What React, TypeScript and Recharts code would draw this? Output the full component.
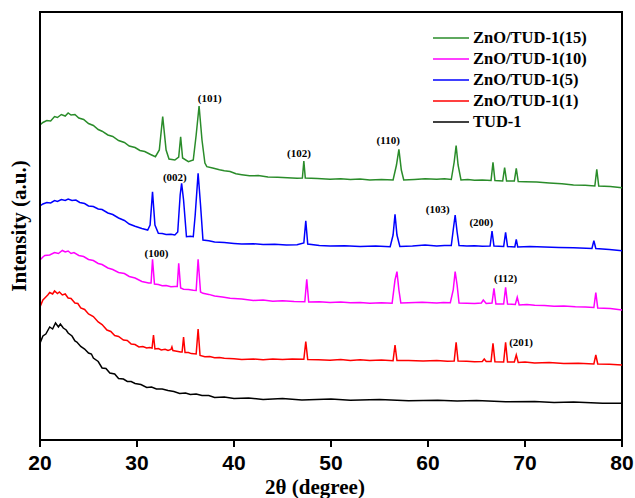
import { LineChart, Line, XAxis, YAxis, ReferenceArea, ReferenceDot } from "recharts";

// [2θ, intensity] (intensity in arbitrary plot units, curves already offset)
const tud1: [number, number][] = [
  [20, 96.7], [20.3, 104], [20.6, 106], [21, 113], [21.3, 111], [21.6, 117], [21.9, 113], [22.1, 116], [22.4, 112],
  [22.7, 110], [22.9, 107], [23.3, 104], [23.6, 99], [23.8, 98], [24.2, 93.5], [24.6, 91], [25, 87], [25.3, 86],
  [25.5, 82], [26, 78.5], [26.4, 72], [26.8, 71.5], [27.2, 67], [27.7, 66], [28.1, 61.5], [28.6, 61], [29, 58.5],
  [29.4, 58.5], [29.8, 56.5], [30.4, 55.5], [31, 52.5], [31.5, 53], [32, 51], [32.6, 51], [33.2, 49.5], [33.8, 48.5],
  [34.4, 46.5], [35, 47], [35.5, 45.5], [36.1, 46], [36.7, 44.5], [37.4, 44.5], [38, 42.5], [39, 43], [40, 41.5],
  [41.5, 42], [43, 40.5], [45, 41.5], [47, 40], [50, 41], [52, 39.8], [55, 40.5], [58, 39.3], [61, 39.8],
  [63, 39], [65, 39.4], [68, 38.2], [71, 38.6], [73, 37.6], [75, 37.9], [78, 36.8], [80, 36.7],
];

const znoTud1_1: [number, number][] = [
  [20, 133], [20.3, 140], [20.5, 142], [20.8, 145], [21, 147.5], [21.3, 146], [21.5, 149], [21.8, 146.5], [22, 148],
  [22.3, 145], [22.6, 146], [22.9, 142], [23.2, 141.5], [23.6, 137], [23.9, 136.5], [24.2, 132], [24.6, 130.5],
  [25, 126], [25.5, 123.5], [26, 118], [26.4, 115.5], [26.9, 110], [27.3, 108.5], [27.7, 104.5], [28.1, 103.5],
  [28.6, 100], [29, 99.5], [29.4, 96], [29.8, 95.5], [30.2, 93], [30.6, 93.5], [31, 92], [31.3, 92.5], [31.55, 92],
  [31.7, 105], [31.85, 91], [32.2, 91.5], [32.5, 90], [32.9, 90.8], [33.2, 89.6], [33.5, 90.5], [33.6, 93],
  [33.7, 89.5], [34.1, 88.8], [34.5, 88], [34.65, 88], [34.8, 103], [34.95, 87.5], [35.3, 87.4], [35.6, 86.4],
  [36.1, 86], [36.3, 111], [36.5, 84.5], [37, 83.3], [37.5, 83.5], [38, 82.2], [38.5, 82.6], [39, 81.8], [40, 81.2],
  [40.8, 80.5], [42, 81], [43, 80.2], [44, 80.9], [45, 80.6], [46, 81], [47.2, 80.7], [47.4, 98.3], [47.6, 80.5],
  [48.7, 80.3], [49.9, 79.8], [51, 80.4], [52, 79.5], [53, 80.2], [54, 79.6], [55.2, 80], [56.4, 79.3], [56.6, 95],
  [56.8, 79.5], [58, 79.4], [59.5, 78.9], [60.9, 79.6], [62, 78.8], [62.7, 79], [62.9, 97.7], [63.1, 79],
  [64, 78.7], [64.8, 78.3], [65.6, 78.5], [65.8, 81], [66, 78.5], [66.5, 78.5], [66.7, 96.7], [66.9, 78.3],
  [67.8, 78], [68, 97.7], [68.2, 78], [68.9, 78], [69.1, 85], [69.3, 77.5], [70, 77.9], [71, 77.1], [72.5, 77.4],
  [74, 76.5], [75.5, 76.8], [77.1, 76], [77.3, 85], [77.5, 76], [78.7, 75.8], [80, 75],
];

const znoTud1_10: [number, number][] = [
  [20, 180], [20.3, 183], [20.5, 184.5], [21, 185], [21.5, 187.5], [21.9, 186.5], [22.3, 189.5], [22.6, 188],
  [22.9, 189], [23.2, 186.5], [23.5, 187.5], [24, 184.5], [24.5, 183.5], [25, 180.5], [25.5, 179.5], [26, 176.5],
  [26.4, 175.5], [27, 172], [27.5, 170.5], [28.1, 167.5], [28.7, 166.5], [29.2, 163.5], [29.8, 162], [30.5, 158.5],
  [31.2, 157], [31.45, 157], [31.6, 180.7], [31.8, 156], [32.2, 155.5], [32.6, 154.2], [33, 154.5], [33.5, 153.2],
  [33.9, 153.5], [34.15, 153.5], [34.3, 176.7], [34.5, 152], [34.8, 150.7], [35.3, 150.6], [35.8, 149.8],
  [36.1, 149.5], [36.3, 180.7], [36.55, 148], [36.8, 146.7], [37.4, 145.6], [38, 144], [38.8, 143], [39.6, 141.7],
  [40.8, 140.9], [42, 139.6], [43, 139.9], [44, 138.8], [45, 139.3], [46.2, 138.4], [47.3, 138.3], [47.5, 160.7],
  [47.7, 138], [48.8, 138.2], [49.9, 137.5], [51, 138], [52, 137.2], [53, 137.6], [54, 136.8], [55.2, 137.2],
  [56.3, 136.7], [56.6, 160], [56.8, 168.3], [57, 150], [57.2, 137], [58, 137.3], [59.4, 137.8], [60.9, 137.1],
  [61.6, 137.6], [62.3, 137.3], [62.6, 150], [62.8, 168.3], [63, 155], [63.2, 137], [64, 136.8], [64.8, 136.5],
  [65.5, 137], [65.7, 140], [66, 136.5], [66.6, 137], [66.8, 151.7], [67, 136], [67.8, 136], [68, 152.7],
  [68.2, 136], [69, 135.5], [69.2, 142.7], [69.4, 135], [70.2, 135.4], [71, 134.8], [72, 134.6], [73, 133.8],
  [74, 134.1], [75.2, 133.3], [76.2, 132.9], [77.1, 132.5], [77.3, 147.3], [77.5, 132], [78.8, 131.4], [80, 130],
];

const znoTud1_5: [number, number][] = [
  [20, 234], [20.3, 236], [20.7, 237.5], [21.1, 237], [21.5, 239.5], [21.8, 238.5], [22.2, 240.5], [22.6, 239.5],
  [22.9, 241], [23.3, 239.5], [23.7, 240], [24.1, 237.5], [24.6, 236.5], [25, 234], [25.5, 233.5], [26, 231],
  [26.4, 230.5], [27, 227], [27.5, 225.5], [28.1, 222], [28.7, 219.5], [29.2, 216], [29.8, 213.8], [30.5, 211.5],
  [31.1, 210], [31.35, 215], [31.6, 248.3], [31.85, 215], [32.2, 206.7], [32.6, 206.5], [33, 205.6], [33.5, 205.8],
  [33.9, 205], [34.2, 208], [34.45, 245], [34.6, 256.7], [34.8, 240], [35.1, 203.3], [35.5, 203.8], [35.8, 203.3],
  [36, 225], [36.3, 266.7], [36.55, 235], [36.8, 200], [37.4, 199.2], [38, 198], [39, 197.4], [40, 196.6],
  [40.8, 196], [42, 196.3], [43, 195.4], [44.2, 195.8], [45.4, 195.1], [46.5, 195.3], [47.2, 197], [47.4, 219.3],
  [47.6, 196], [48.8, 194.6], [49.9, 194], [51.4, 194.3], [53, 193.5], [54.6, 193.9], [56.1, 193.3], [56.4, 205],
  [56.6, 225.7], [56.8, 205], [57.1, 193.5], [58.4, 194.1], [59.7, 195], [60.9, 194], [61.7, 194.6], [62.4, 194.5],
  [62.6, 210], [62.8, 225], [63, 208], [63.2, 194.5], [64, 194], [64.8, 194.3], [65.6, 193.8], [66.4, 194],
  [66.6, 209], [66.8, 194], [67.8, 193.5], [68, 207.7], [68.2, 193.5], [68.95, 193], [69.1, 200.7], [69.25, 193],
  [70.5, 193.6], [72, 193.1], [73.5, 192.6], [75, 192.2], [76.9, 191.5], [77.1, 199.3], [77.3, 191.5],
  [78.7, 190.6], [80, 189.3],
];

const znoTud1_15: [number, number][] = [
  [20, 315], [20.3, 317.5], [20.7, 319.5], [21.1, 319], [21.5, 323.5], [21.8, 322.5], [22.2, 325.5], [22.6, 324],
  [22.9, 327], [23.2, 325], [23.6, 325.5], [24, 322], [24.5, 320.5], [25, 316.5], [25.5, 314.5], [26, 310.5],
  [26.4, 308.8], [27, 305], [27.5, 303.5], [28.1, 299.5], [28.7, 297.5], [29.2, 294], [29.8, 292.5], [30.3, 289.5],
  [30.8, 288.5], [31.4, 285.5], [31.9, 283.3], [32.3, 290], [32.65, 323.3], [33, 290], [33.3, 281], [33.9, 280],
  [34.3, 283], [34.5, 303.3], [34.7, 282], [35.3, 278.3], [35.8, 280], [36.1, 305], [36.4, 334], [36.7, 300],
  [37, 277], [37.2, 273.3], [37.8, 272], [38.5, 270.3], [39, 269.2], [39.6, 268.5], [40.2, 266.2], [40.8, 265.3],
  [41.6, 264.2], [42.5, 264.4], [43.5, 263.1], [44.5, 262.8], [45.5, 262.2], [46.5, 261.7], [47.05, 262],
  [47.2, 279], [47.35, 262], [48.6, 261.4], [49.9, 260.7], [51, 261.2], [52, 260.4], [53, 260.9], [54, 260],
  [55.2, 260.6], [56.4, 260], [56.75, 275], [57, 290.7], [57.25, 270], [57.5, 260], [58.6, 260.6], [59.7, 261.3],
  [60.9, 260.8], [61.7, 261.2], [62.4, 260.5], [62.7, 278], [62.9, 294.3], [63.1, 275], [63.4, 260], [64.1, 260.4],
  [64.8, 259.8], [65.6, 260.1], [66.5, 259.5], [66.7, 277.7], [66.9, 259.5], [67.7, 259], [67.9, 272.3],
  [68.1, 259], [68.9, 259], [69.1, 271.7], [69.3, 258.5], [70, 258.3], [71.2, 257.9], [72.5, 257], [73.8, 256.3],
  [75, 255], [76.2, 254.8], [77.2, 254], [77.4, 270.7], [77.6, 254], [78.8, 253.4], [80, 252.3],
];

const seriesNames = ["ZnO/TUD-1(15)", "ZnO/TUD-1(10)", "ZnO/TUD-1(5)", "ZnO/TUD-1(1)", "TUD-1"];
const seriesColors = ["#2a8c2a", "#ff00ff", "#0000ff", "#ff0000", "#000000"];
const seriesData = [znoTud1_15, znoTud1_10, znoTud1_5, znoTud1_1, tud1];

const xTicks = [20, 30, 40, 50, 60, 70, 80];

// hkl labels at [2θ, intensity]
const peakLabels = ["(101)", "(002)", "(100)", "(102)", "(110)", "(103)", "(200)", "(112)", "(201)"];
const peakLabelPos: [number, number][] = [
  [37.5, 342], [33.9, 263], [32.0, 186.7], [46.7, 286.7], [55.9, 300],
  [61.0, 231], [65.5, 218.3], [68.0, 161.7], [69.6, 98.3],
];

const serif = "'Liberation Serif', 'Times New Roman', serif";

function LegendBox() {
  return (
    <div
      style={{
        position: "absolute",
        left: 433,
        top: 27,
        fontFamily: serif,
        fontWeight: "bold",
        fontSize: 16.5,
        color: "#000",
      }}
    >
      {seriesNames.map((name, i) => (
        <div key={name} style={{ display: "flex", alignItems: "center", height: 21 }}>
          <svg width={40} height={4}>
            <line x1={0} y1={2} x2={36} y2={2} stroke={seriesColors[i]} strokeWidth={1.6} />
          </svg>
          <span>{name}</span>
        </div>
      ))}
    </div>
  );
}

export default function App() {
  return (
    <div style={{ position: "absolute", left: 0, top: 0, width: 635, height: 498, background: "#fff" }}>
      <LineChart width={635} height={498} margin={{ top: 12, right: 13, left: 0, bottom: 0 }}>
        <XAxis
          type="number"
          dataKey="0"
          domain={[20, 80]}
          ticks={xTicks}
          allowDataOverflow
          height={58}
          tickSize={7}
          tickMargin={8}
          axisLine={{ stroke: "#000", strokeWidth: 2 }}
          tickLine={{ stroke: "#000", strokeWidth: 2 }}
          tick={{ fill: "#000", fontSize: 21, fontWeight: "bold", fontFamily: "'Liberation Sans', Arial, sans-serif" }}
          label={{
            value: "2θ (degree)",
            position: "insideBottom",
            offset: 4,
            dx: -16,
            style: { fill: "#000", fontSize: 21, fontWeight: "bold", fontFamily: serif },
          }}
        />
        <YAxis
          type="number"
          domain={[0, 428]}
          width={40}
          tick={false}
          tickLine={false}
          axisLine={{ stroke: "#000", strokeWidth: 2 }}
          label={{
            value: "Intensity (a.u.)",
            angle: -90,
            position: "center",
            dx: -1,
            style: { fill: "#000", fontSize: 21, fontWeight: "bold", fontFamily: serif },
          }}
        />
        <ReferenceArea x1={20} x2={80} y1={0} y2={428} fill="none" stroke="#000" strokeWidth={2} />
        {seriesData.map((d, i) => (
          <Line
            key={seriesNames[i]}
            data={d}
            dataKey="1"
            name={seriesNames[i]}
            stroke={seriesColors[i]}
            strokeWidth={1.5}
            dot={false}
            type="linear"
            isAnimationActive={false}
          />
        ))}
        {peakLabels.map((t, i) => (
          <ReferenceDot
            key={t + i}
            x={peakLabelPos[i][0]}
            y={peakLabelPos[i][1]}
            r={0}
            fill="none"
            stroke="none"
            label={{
              value: t,
              position: "center",
              style: { fill: "#000", fontSize: 11, fontWeight: "bold", fontFamily: serif },
            }}
          />
        ))}
      </LineChart>
      <LegendBox />
    </div>
  );
}
